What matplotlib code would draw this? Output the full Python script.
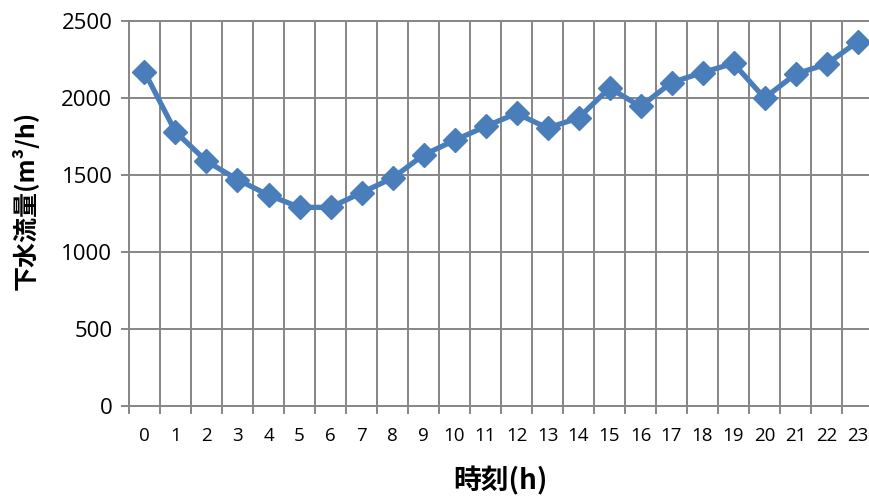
import matplotlib
matplotlib.use("Agg")
import matplotlib.pyplot as plt
from matplotlib.ticker import FixedLocator

hours = list(range(24))
flow = [2170, 1780, 1590, 1470, 1370, 1290, 1290, 1385, 1480, 1630,
        1725, 1815, 1900, 1805, 1870, 2065, 1945, 2100, 2165, 2225,
        2000, 2155, 2220, 2365]
y_ticks = [0, 500, 1000, 1500, 2000, 2500]

line_color = "#4A7EBB"
grid_color = "#868686"

fig = plt.figure(figsize=(8.7, 4.96), dpi=100)
ax = fig.add_axes([129 / 870, 1 - 406 / 496, 744 / 870, 385 / 496])

ax.plot(hours, flow, color=line_color, linewidth=3.8, marker="D",
        markersize=12.5, markeredgecolor=line_color, markerfacecolor=line_color,
        zorder=3, clip_on=False)

ax.set_xlim(-0.5, 23.5)
ax.set_ylim(0, 2500)

# category labels at centres, grid lines and tick marks on the boundaries
ax.set_xticks(hours)
ax.set_xticklabels([str(h) for h in hours])
ax.xaxis.set_minor_locator(FixedLocator([h - 0.5 for h in hours] + [23.5]))
ax.tick_params(axis="x", which="major", length=0, pad=15, labelsize=13.5)
ax.tick_params(axis="x", which="minor", length=6, width=1.4, color=grid_color)
ax.grid(axis="x", which="minor", color=grid_color, linewidth=1.4)

ax.set_yticks(y_ticks)
ax.tick_params(axis="y", which="major", length=6, width=1.4, color=grid_color,
               labelsize=16, pad=6)
ax.grid(axis="y", which="major", color=grid_color, linewidth=1.4)

for lbl in ax.get_xticklabels() + ax.get_yticklabels():
    lbl.set_fontfamily(["Open Sans", "DejaVu Sans"])

for s in ax.spines.values():
    s.set_color(grid_color)
    s.set_linewidth(1.4)

ax.set_axisbelow(True)

cjk = ["Noto Sans CJK JP", "DejaVu Sans"]
fig.text(500 / 870, 1 - 481 / 496, "時刻(h)", ha="center", va="center",
         fontsize=20, fontweight="bold", family=cjk)
fig.text(25 / 870, 1 - 200 / 496, "下水流量(m³/h)", ha="center", va="center",
         rotation=90, fontsize=18, fontweight="bold", family=cjk)

fig.savefig("out.png", dpi=100)
